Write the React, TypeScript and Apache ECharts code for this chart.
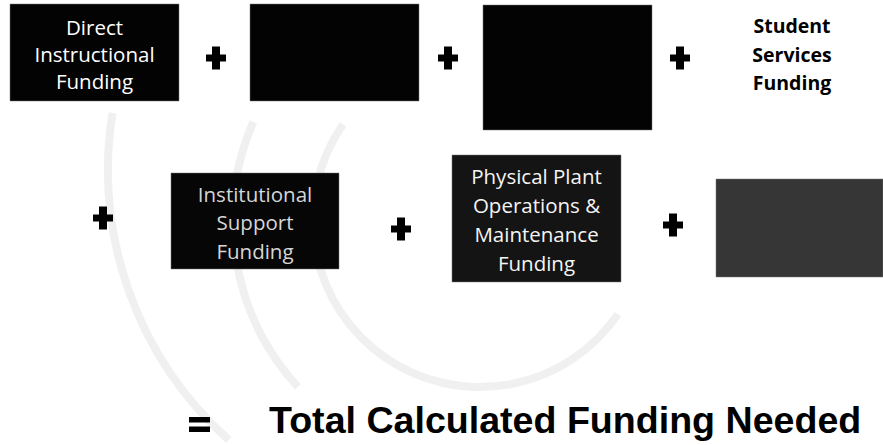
import React, { useEffect, useRef } from "react";
import * as echarts from "echarts";

// Diagram content
const topRowLabels: string[][] = [
  ["Direct", "Instructional", "Funding"],
  [],
  [],
];
const studentServicesLabel: string[] = ["Student", "Services", "Funding"];
const secondRowLabels: string[][] = [
  ["Institutional", "Support", "Funding"],
  ["Physical Plant", "Operations &", "Maintenance", "Funding"],
  [],
];
const resultLabel = "Total Calculated Funding Needed";

export default function App() {
  const ref = useRef<HTMLDivElement>(null);

  useEffect(() => {
    if (!ref.current) return;
    const chart = echarts.init(ref.current, null, { renderer: "svg" });

    const boxFont = '"Open Sans", "DejaVu Sans", sans-serif';

    const topBoxes = [
      { x: 10, y: 4, w: 169, h: 97, fill: "#030303", lh: 27, size: 20.5, color: "#ffffff" },
      { x: 250, y: 4, w: 169, h: 97, fill: "#030303", lh: 27, size: 20.5, color: "#ffffff" },
      { x: 483, y: 5, w: 169, h: 125, fill: "#030303", lh: 27, size: 20.5, color: "#ffffff" },
    ];
    const midBoxes = [
      { x: 171, y: 173, w: 168, h: 96, fill: "#060606", lh: 28.5, size: 20.5, color: "#d6d6d6" },
      { x: 452, y: 155, w: 169, h: 127, fill: "#141414", lh: 29, size: 20.5, color: "#f4f4f4" },
      { x: 716, y: 179, w: 167, h: 98, fill: "#363636", lh: 27, size: 20, color: "#111111" },
    ];
    const plusCenters = [
      [216, 58], [448, 58], [680, 58],
      [103, 218], [401, 229], [673, 225],
    ];

    const elements: any[] = [];

    // faint background arcs
    const arcs = [
      { cx: 480, cy: 220, r: 167, s: 0.6, e: 3.75 },
      { cx: 480, cy: 220, r: 247, s: 2.4, e: 3.55 },
      { cx: 470, cy: 170, r: 362, s: 2.3, e: 3.3 },
    ];
    arcs.forEach((a) => {
      elements.push({
        type: "arc",
        shape: { cx: a.cx, cy: a.cy, r: a.r, startAngle: a.s, endAngle: a.e, clockwise: true },
        style: { stroke: "#f0f0f0", lineWidth: 8, fill: null },
        z: 1,
      });
    });

    const addBox = (b: any, lines: string[]) => {
      elements.push({
        type: "rect",
        shape: { x: b.x, y: b.y, width: b.w, height: b.h },
        style: { fill: b.fill, stroke: "#777", lineWidth: 0.5 },
        z: 5,
      });
      if (lines.length) {
        elements.push({
          type: "text",
          x: b.x + b.w / 2,
          y: b.y + b.h / 2 + 1,
          style: {
            text: lines.join("\n"),
            fill: b.color,
            fontFamily: boxFont,
            fontSize: b.size,
            fontWeight: "normal",
            lineHeight: b.lh,
            align: "center",
            verticalAlign: "middle",
            textAlign: "center",
            textVerticalAlign: "middle",
          },
          z: 6,
        });
      }
    };

    topBoxes.forEach((b, i) => addBox(b, topRowLabels[i]));
    midBoxes.forEach((b, i) => addBox(b, secondRowLabels[i]));

    // Student services (text only)
    elements.push({
      type: "text",
      x: 792,
      y: 54,
      style: {
        text: studentServicesLabel.join("\n"),
        fill: "#000",
        fontFamily: boxFont,
        fontSize: 19.5,
        fontWeight: "bold",
        lineHeight: 28.5,
        align: "center",
        verticalAlign: "middle",
        textAlign: "center",
        textVerticalAlign: "middle",
      },
      z: 6,
    });

    // plus signs
    plusCenters.forEach(([cx, cy]) => {
      elements.push({
        type: "rect",
        shape: { x: cx - 10, y: cy - 3.5, width: 20, height: 7 },
        style: { fill: "#000" },
        z: 6,
      });
      elements.push({
        type: "rect",
        shape: { x: cx - 4, y: cy - 11.5, width: 8, height: 23 },
        style: { fill: "#000" },
        z: 6,
      });
    });

    // equals sign
    elements.push({
      type: "rect",
      shape: { x: 189, y: 417, width: 21, height: 5.5 },
      style: { fill: "#000" },
      z: 6,
    });
    elements.push({
      type: "rect",
      shape: { x: 189, y: 426.5, width: 21, height: 5.5 },
      style: { fill: "#000" },
      z: 6,
    });

    // result
    elements.push({
      type: "text",
      x: 269,
      y: 420,
      style: {
        text: resultLabel,
        fill: "#000",
        fontFamily: '"Liberation Sans", Arial, sans-serif',
        fontSize: 37.6,
        fontWeight: "bold",
        align: "left",
        verticalAlign: "middle",
        textAlign: "left",
        textVerticalAlign: "middle",
      },
      z: 6,
    });

    chart.setOption({
      animation: false,
      backgroundColor: "#ffffff",
      graphic: { elements },
    });

    return () => chart.dispose();
  }, []);

  return (
    <div
      ref={ref}
      style={{ position: "fixed", left: 0, top: 0, width: 883, height: 445 }}
    />
  );
}
